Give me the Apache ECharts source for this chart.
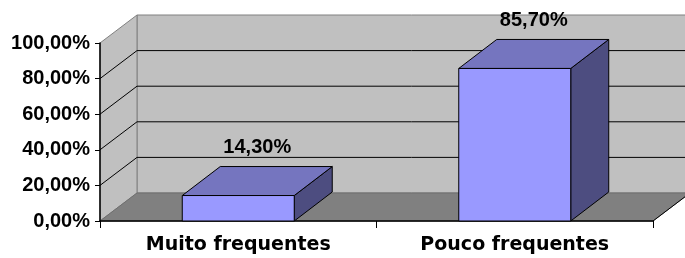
<!DOCTYPE html>
<html>
<head>
<meta charset="utf-8">
<script src="https://cdn.jsdelivr.net/npm/echarts@6/dist/echarts.min.js"></script>
<style>
  html, body { margin: 0; padding: 0; background: #fff; }
  #chart { width: 685px; height: 258px; }
</style>
</head>
<body>
<div id="chart"></div>
<script>
// data
var categories = ['Muito frequentes', 'Pouco frequentes'];
var values = [14.3, 85.7];
var yTicks = [0, 20, 40, 60, 80, 100];

// 3d look
var WALL_DX = 37, WALL_DY = -28;
var BAR_DX = 38, BAR_DY = -29;
var BAR_FRAC = 0.405;

function pct(v) {
  return v.toFixed(2).replace('.', ',') + '%';
}

var chart = echarts.init(document.getElementById('chart'), null, { renderer: 'canvas' });

function renderWalls(params, api) {
  var cs = params.coordSys;
  var x0 = cs.x, x1 = cs.x + cs.width;
  var yTop = cs.y, yBot = cs.y + cs.height;
  var kids = [];
  // back wall
  kids.push({
    type: 'rect',
    shape: { x: x0 + WALL_DX, y: yTop + WALL_DY, width: cs.width, height: cs.height },
    style: { fill: '#c0c0c0', stroke: '#808080', lineWidth: 1 }
  });
  // side wall
  kids.push({
    type: 'polygon',
    shape: { points: [[x0, yTop], [x0 + WALL_DX, yTop + WALL_DY], [x0 + WALL_DX, yBot + WALL_DY], [x0, yBot]] },
    style: { fill: '#c0c0c0', stroke: '#808080', lineWidth: 1 }
  });
  // floor
  kids.push({
    type: 'polygon',
    shape: { points: [[x0, yBot], [x1, yBot], [x1 + WALL_DX, yBot + WALL_DY], [x0 + WALL_DX, yBot + WALL_DY]] },
    style: { fill: '#808080', stroke: '#6e6e6e', lineWidth: 1 }
  });
  kids.push({
    type: 'line',
    shape: { x1: x1, y1: yBot, x2: x1 + WALL_DX, y2: yBot + WALL_DY },
    style: { stroke: '#000', lineWidth: 1 }
  });
  yTicks.forEach(function (t) {
    if (t === 0 || t === 100) return;
    var y = api.coord([0, t])[1];
    kids.push({
      type: 'polyline',
      shape: { points: [[x0, y], [x0 + WALL_DX, y + WALL_DY], [x1 + WALL_DX + 5, y + WALL_DY]] },
      style: { stroke: '#000', lineWidth: 1, fill: null }
    });
  });
  return { type: 'group', children: kids };
}

function renderBar(params, api) {
  var cx = api.coord([api.value(0), 0])[0];
  var y0 = api.coord([api.value(0), 0])[1];
  var y1 = api.coord([api.value(0), api.value(1)])[1];
  var w = api.size([1, 0])[0] * BAR_FRAC;
  var l = cx - w / 2, r = cx + w / 2;
  var line = { stroke: '#000', lineWidth: 1 };
  return {
    type: 'group',
    children: [
      {
        type: 'polygon',
        shape: { points: [[r, y1], [r + BAR_DX, y1 + BAR_DY], [r + BAR_DX, y0 + BAR_DY], [r, y0]] },
        style: Object.assign({ fill: '#4d4d80' }, line)
      },
      {
        type: 'polygon',
        shape: { points: [[l, y1], [l + BAR_DX, y1 + BAR_DY], [r + BAR_DX, y1 + BAR_DY], [r, y1]] },
        style: Object.assign({ fill: '#7575bf' }, line)
      },
      {
        type: 'rect',
        shape: { x: l, y: y1, width: w, height: y0 - y1 },
        style: Object.assign({ fill: '#9999ff' }, line)
      },
      {
        type: 'text',
        style: {
          text: pct(api.value(1)),
          x: cx + BAR_DX / 2,
          y: y1 + BAR_DY - 19,
          align: 'center',
          verticalAlign: 'middle',
          font: 'bold 20px "Liberation Sans", Arial, sans-serif',
          fill: '#000'
        }
      }
    ]
  };
}

chart.setOption({
  animation: false,
  grid: { left: 100, right: 32, top: 43, bottom: 37, containLabel: false },
  xAxis: {
    type: 'category',
    data: categories,
    z: 5,
    axisLine: { lineStyle: { color: '#000', width: 1.5 } },
    axisTick: { show: true, length: 7, lineStyle: { color: '#000' } },
    axisLabel: {
      margin: 15,
      color: '#000',
      fontWeight: 'bold',
      fontSize: 19,
      fontFamily: '"DejaVu Sans", sans-serif'
    }
  },
  yAxis: {
    type: 'value',
    min: 0,
    max: 100,
    interval: 20,
    z: 5,
    splitLine: { show: false },
    axisLine: { show: true, lineStyle: { color: '#000', width: 1.5 } },
    axisTick: { show: true, length: 5, lineStyle: { color: '#000' } },
    axisLabel: {
      margin: 10,
      color: '#000',
      fontWeight: 'bold',
      fontSize: 20,
      fontFamily: '"Liberation Sans", Arial, sans-serif',
      formatter: function (v) { return pct(v); }
    }
  },
  series: [
    {
      type: 'custom',
      z: 1,
      silent: true,
      renderItem: renderWalls,
      data: [[0, 0]]
    },
    {
      type: 'custom',
      z: 10,
      renderItem: renderBar,
      encode: { x: 0, y: 1 },
      data: values.map(function (v, i) { return [i, v]; })
    }
  ]
});

window.addEventListener('resize', chart.resize);
</script>
</body>
</html>
